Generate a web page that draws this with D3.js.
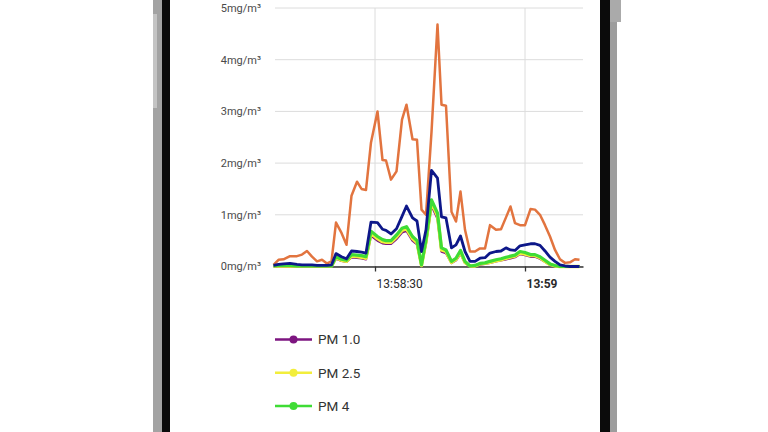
<!DOCTYPE html>
<html>
<head>
<meta charset="utf-8">
<script src="https://cdn.jsdelivr.net/npm/d3@7"></script>
<style>
    body { margin: 0; background: #fff; font-family: Roboto, "Noto Sans", sans-serif; }
    svg text { font-family: Roboto, "Noto Sans", sans-serif; }
    .ylab { font-size: 11px; fill: #4a4a4a; }
    .xlab { font-size: 12px; fill: #2a2a2a; }
    .legend text { font-size: 13.5px; fill: #333; }
</style>
</head>
<body>
<svg id="svg" width="768" height="432"></svg>
<script>
    // seconds after 13:58:00 for every sample
    let seconds = [9.7, 10.7, 11.7, 13.0, 14.4, 15.4, 16.4, 17.4, 18.4, 19.4,
        20.4, 21.3, 22.2, 23.3, 24.3, 25.3, 26.4, 27.3, 28.2, 29.2,
        30.5, 31.5, 32.2, 33.2, 34.3, 35.4, 36.3, 37.5, 38.4, 39.3,
        40.2, 41.3, 42.5, 43.3, 44.2, 45.3, 46.2, 47.1, 48.0, 49.0,
        50.0, 51.0, 52.0, 53.0, 54.2, 55.2, 56.2, 57.1, 58.0, 59.0,
        60.0, 61.1, 62.0, 63.0, 64.0, 65.0, 66.0, 67.0, 68.0, 69.0,
        70.0, 70.9];

    let orangeVals = [0.03, 0.13, 0.14, 0.2, 0.2, 0.23, 0.3, 0.19, 0.1, 0.13,
        0.06, 0.1, 0.85, 0.65, 0.42, 1.37, 1.64, 1.5, 1.48, 2.4,
        3.0, 2.06, 2.05, 1.68, 1.84, 2.84, 3.13, 2.46, 2.45, 1.1,
        1.0, 2.6, 4.68, 3.13, 3.11, 1.06, 0.87, 1.45, 0.71, 0.29,
        0.29, 0.35, 0.35, 0.8, 0.71, 0.72, 0.95, 1.16, 0.84, 0.8,
        0.8, 1.11, 1.1, 1.0, 0.8, 0.58, 0.32, 0.14, 0.07, 0.08,
        0.14, 0.13];

    let navyVals = [0.02, 0.04, 0.05, 0.06, 0.04, 0.03, 0.03, 0.03, 0.02, 0.02,
        0.02, 0.03, 0.25, 0.19, 0.15, 0.3, 0.29, 0.28, 0.26, 0.86,
        0.85, 0.72, 0.7, 0.63, 0.73, 0.97, 1.17, 0.94, 0.88, 0.29,
        0.71, 1.86, 1.71, 0.96, 0.94, 0.36, 0.42, 0.59, 0.29, 0.1,
        0.1, 0.16, 0.17, 0.26, 0.29, 0.3, 0.36, 0.32, 0.31, 0.4,
        0.42, 0.44, 0.44, 0.41, 0.3, 0.18, 0.1, 0.03, 0.01, 0.0,
        0.0, 0.0];

    let pm1Vals = [0.0, 0.01, 0.01, 0.01, 0.0, 0.0, 0.0, 0.0, 0.0, 0.0,
        0.0, 0.0, 0.15, 0.11, 0.09, 0.18, 0.17, 0.16, 0.14, 0.6,
        0.5, 0.45, 0.44, 0.44, 0.53, 0.66, 0.69, 0.5, 0.43, 0.02,
        0.45, 1.18, 0.93, 0.29, 0.26, 0.07, 0.12, 0.25, 0.07, 0.0,
        0.01, 0.04, 0.05, 0.07, 0.1, 0.12, 0.14, 0.16, 0.18, 0.24,
        0.22, 0.19, 0.19, 0.15, 0.09, 0.03, 0.01, 0.0, 0.0, 0.0,
        0.0, 0.0];

    let pm25Vals = [0.01, 0.01, 0.01, 0.01, 0.01, 0.01, 0.01, 0.01, 0.01, 0.01,
        0.01, 0.01, 0.17, 0.12, 0.1, 0.2, 0.19, 0.18, 0.16, 0.64,
        0.54, 0.48, 0.47, 0.47, 0.57, 0.7, 0.73, 0.54, 0.46, 0.02,
        0.48, 1.24, 0.98, 0.32, 0.29, 0.08, 0.14, 0.28, 0.08, 0.01,
        0.01, 0.05, 0.06, 0.08, 0.11, 0.13, 0.16, 0.18, 0.2, 0.26,
        0.24, 0.21, 0.21, 0.17, 0.1, 0.04, 0.01, 0.0, 0.0, 0.0,
        0.0, 0.0];

    let pm4Vals = [0.01, 0.02, 0.02, 0.02, 0.01, 0.01, 0.01, 0.01, 0.01, 0.01,
        0.01, 0.01, 0.19, 0.14, 0.12, 0.23, 0.22, 0.21, 0.19, 0.68,
        0.58, 0.52, 0.5, 0.5, 0.61, 0.74, 0.77, 0.58, 0.5, 0.03,
        0.52, 1.29, 1.03, 0.36, 0.32, 0.1, 0.16, 0.31, 0.1, 0.01,
        0.02, 0.06, 0.07, 0.1, 0.13, 0.15, 0.18, 0.2, 0.22, 0.29,
        0.27, 0.23, 0.23, 0.19, 0.12, 0.05, 0.02, 0.0, 0.0, 0.0,
        0.0, 0.0];

    let yTicks = [0, 1, 2, 3, 4, 5];
    let xTickSeconds = [30, 60];
    let legendNames = ['PM 1.0', 'PM 2.5', 'PM 4'];
    let legendColors = ['#7d1580', '#f2ee3c', '#3fdc35'];

    let svg = d3.select('#svg');

    // phone frame edges
    svg.append('rect').attr('x', 153).attr('y', 0).attr('width', 10).attr('height', 432).attr('fill', '#a3a3a3');
    svg.append('rect').attr('x', 153).attr('y', 14).attr('width', 4).attr('height', 94).attr('fill', '#c4c4c4');
    svg.append('rect').attr('x', 162).attr('y', 0).attr('width', 8).attr('height', 432).attr('fill', '#0b0b0b');
    svg.append('rect').attr('x', 600).attr('y', 0).attr('width', 10).attr('height', 432).attr('fill', '#0b0b0b');
    svg.append('rect').attr('x', 610).attr('y', 0).attr('width', 7).attr('height', 432).attr('fill', '#9d9d9d');
    svg.append('rect').attr('x', 610).attr('y', 0).attr('width', 11).attr('height', 22).attr('fill', '#aaa');

    let base = new Date(2020, 0, 1, 13, 58, 0);
    let toDate = s => new Date(base.getTime() + s * 1000);

    let x = d3.scaleTime()
        .domain([toDate(10), toDate(71.6)])
        .range([275, 583]);
    let y = d3.scaleLinear()
        .domain([0, 5])
        .range([266.5, 8]);

    // grid
    svg.append('g').selectAll('line')
        .data(yTicks)
        .enter().append('line')
        .attr('x1', 275).attr('x2', 583)
        .attr('y1', d => y(d)).attr('y2', d => y(d))
        .attr('stroke', '#dcdcdc').attr('stroke-width', 1);

    svg.append('g').selectAll('line')
        .data(xTickSeconds)
        .enter().append('line')
        .attr('x1', d => x(toDate(d))).attr('x2', d => x(toDate(d)))
        .attr('y1', y(5)).attr('y2', y(0))
        .attr('stroke', '#dcdcdc').attr('stroke-width', 1);

    // y labels
    svg.append('g').selectAll('text')
        .data(yTicks)
        .enter().append('text')
        .attr('class', 'ylab')
        .attr('x', 261)
        .attr('y', d => y(d))
        .attr('dy', '0.35em')
        .attr('text-anchor', 'end')
        .text(d => d + 'mg/m³');

    // x axis
    let xAxis = d3.axisBottom(x)
        .tickValues(xTickSeconds.map(toDate))
        .tickSize(5)
        .tickSizeOuter(0)
        .tickFormat('');
    let xAxisGroup = svg.append('g')
        .attr('transform', `translate(0, ${y(0)})`)
        .call(xAxis);
    xAxisGroup.select('.domain').attr('stroke', '#333').attr('stroke-width', 1.3);
    xAxisGroup.selectAll('.tick line').attr('stroke', '#333').attr('stroke-width', 1.3);

    svg.append('g').selectAll('text')
        .data(xTickSeconds)
        .enter().append('text')
        .attr('class', 'xlab')
        .attr('x', d => x(toDate(d)) + 1.5)
        .attr('y', 288)
        .attr('font-weight', d => d % 60 == 0 ? 'bold' : 'normal')
        .text(d => d % 60 == 0 ? d3.timeFormat('%H:%M')(toDate(d)) : d3.timeFormat('%H:%M:%S')(toDate(d)));

    // lines
    let series = [
        { vals: orangeVals, color: '#e2743f', width: 2.5 },
        { vals: pm1Vals, color: '#7d1580', width: 2.4 },
        { vals: pm25Vals, color: '#f2ee3c', width: 3.4 },
        { vals: pm4Vals, color: '#3fdc35', width: 3.2 },
        { vals: navyVals, color: '#0d1789', width: 2.8 }
    ];

    let line = d3.line()
        .x((d, i) => x(toDate(seconds[i])))
        .y(d => y(d));

    svg.append('g').selectAll('path')
        .data(series)
        .enter().append('path')
        .attr('d', d => line(d.vals))
        .attr('fill', 'none')
        .attr('stroke', d => d.color)
        .attr('stroke-width', d => d.width)
        .attr('stroke-linejoin', 'round');

    // legend
    let legend = svg.append('g').attr('class', 'legend');
    let items = legend.selectAll('g')
        .data(legendNames)
        .enter().append('g')
        .attr('transform', (d, i) => `translate(0, ${339.5 + i * 33.3})`);
    items.append('line')
        .attr('x1', 275).attr('x2', 312)
        .attr('stroke', (d, i) => legendColors[i])
        .attr('stroke-width', 2.5);
    items.append('circle')
        .attr('cx', 293.5).attr('r', 4)
        .attr('fill', (d, i) => legendColors[i]);
    items.append('text')
        .attr('x', 318)
        .attr('dy', '0.36em')
        .text(d => d);
</script>
</body>
</html>
